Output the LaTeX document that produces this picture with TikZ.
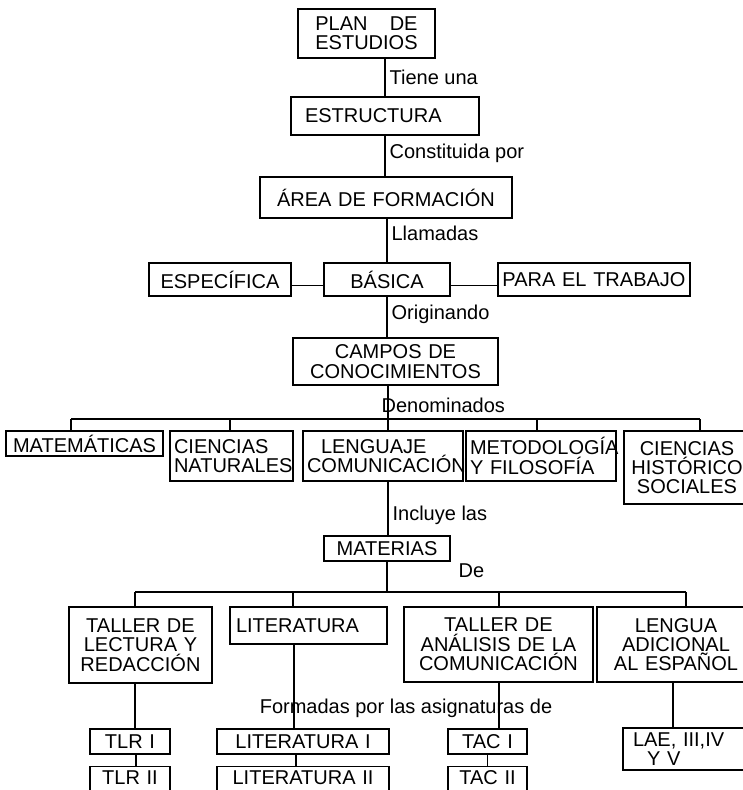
\documentclass[tikz,border=0pt]{standalone}
\usepackage{fontspec}
\setmainfont{Liberation Sans}
\newdimen\pix \pix=0.75pt
\lineskiplimit=-20pt
\tikzset{
    caja/.style={draw, rectangle, line width=1.1pt, inner xsep=4\pix, inner ysep=1pt, align=center},
    cortada/.style={caja, anchor=north, inner ysep=3pt, text depth=14pt},
    etiqueta/.style={anchor=west, inner sep=0pt, xshift=4\pix},
    linea/.style={line width=0.9pt}
}
\begin{document}
\begin{tikzpicture}[x=0.75pt,y=-0.75pt]
    \tikzstyle{every node}=[font=\fontsize{15}{14.5}\selectfont]
    \path[use as bounding box, fill=white] (0,0) rectangle (743,790);

    \node[caja, text width=129\pix, minimum height=49\pix] (plan) at (366.5,33.5) {PLAN\hspace{1.11em}DE\\ESTUDIOS};
    \node[caja, text width=180\pix, minimum height=38\pix, align=left] (estr) at (385,116) {\hspace*{10\pix}ESTRUCTURA};
    \node[caja, text width=244\pix, minimum height=41\pix] (area) at (386,197.5) {ÁREA DE FORMACIÓN};

    \node[caja, text width=134\pix, minimum height=33\pix] (esp) at (220,279.5) {ESPECÍFICA};
    \node[caja, text width=118\pix, minimum height=33\pix] (bas) at (387,279.5) {BÁSICA};
    \node[caja, text width=184\pix, minimum height=33\pix] (trab) at (594,279.5) {PARA EL TRABAJO};

    \node[caja, text width=197\pix, minimum height=47\pix] (campos) at (395.5,361.5) {CAMPOS DE\\CONOCIMIENTOS};

    \node[caja, text width=149\pix, minimum height=25\pix] (mat) at (84.5,443.5) {MATEMÁTICAS};
    \node[caja, text width=115\pix, minimum height=50\pix, align=left] (cnat) at (231.5,456) {CIENCIAS\\NATURALES};
    \node[caja, text width=152\pix, minimum height=50\pix, align=left] (leng) at (383,456) {\hspace*{14\pix}LENGUAJE\\COMUNICACIÓN};
    \node[caja, text width=142\pix, minimum height=50\pix, align=left] (metod) at (541,456) {METODOLOGÍA\\Y FILOSOFÍA};
    \node[caja, text width=118\pix, minimum height=73\pix] (chist) at (687,467.5) {CIENCIAS\\HISTÓRICO\\SOCIALES};

    \node[caja, text width=118\pix, minimum height=25\pix] (materias) at (387,548.5) {MATERIAS};

    \node[caja, text width=135\pix, minimum height=76\pix] (tlec) at (140.5,645) {TALLER DE\\LECTURA Y\\REDACCIÓN};
    \node[caja, text width=149\pix, minimum height=37\pix, align=left] (lit) at (308.5,625.5) {\hspace*{2\pix}LITERATURA};
    \node[caja, text width=181\pix, minimum height=75\pix] (tanal) at (498.5,644.5) {TALLER DE\hspace*{48\pix}\\ANÁLISIS DE LA\\COMUNICACIÓN};
    \node[caja, text width=150\pix, minimum height=75\pix] (lengua) at (676,644.5) {LENGUA\\ADICIONAL\\AL ESPAÑOL};

    \node (formadas) at (406,708) {Formadas por las asignaturas de};

    \node[caja, text width=72\pix, minimum height=25\pix] (tlr1) at (130,741.5) {TLR I};
    \node[cortada, text width=72\pix] (tlr2) at (130,766) {TLR II};
    \node[caja, text width=164\pix, minimum height=25\pix] (lit1) at (303,741.5) {LITERATURA I};
    \node[cortada, text width=164\pix] (lit2) at (303,766) {LITERATURA II};
    \node[caja, text width=71\pix, minimum height=25\pix] (tac1) at (487.5,741.5) {TAC I};
    \node[cortada, text width=71\pix] (tac2) at (487.5,766) {TAC II};
    \node[caja, text width=124\pix, minimum height=42\pix, align=left] (lae) at (689,749) {\hspace*{6\pix}LAE, III,IV\\\hspace*{20\pix}Y V};

    % eje central
    \draw[linea] (plan.south -| estr.north) -- (estr.north) node[etiqueta, midway]{Tiene una};
    \draw[linea] (estr.south) -- (estr.south |- area.north) node[etiqueta, pos=0.43]{Constituida por};
    \draw[linea] (area.south -| bas.north) -- (bas.north) node[etiqueta, pos=0.33]{Llamadas};
    \draw[linea] ([yshift=-6\pix]esp.east) -- ([yshift=-6\pix]bas.west);
    \draw[linea] ([yshift=-6\pix]bas.east) -- ([yshift=-6\pix]trab.west);
    \draw[linea] (bas.south) -- (bas.south |- campos.north) node[etiqueta, pos=0.43]{Originando};

    % campos de conocimientos
    \coordinate (bus5) at (388,419);
    \draw[linea] (campos.south -| bus5) -- (bus5) node[etiqueta, pos=0.6, xshift=-11\pix]{Denominados};
    \draw[linea] (bus5 -| 71,0) -- (bus5 -| 700,0);
    \foreach \n/\x in {mat/71,cnat/230,leng/388,metod/537,chist/700}
        \draw[linea] (bus5 -| \x,0) -- (\n.north -| \x,0);

    % materias
    \draw[linea] (leng.south -| bus5) -- (materias.north -| bus5) node[etiqueta, pos=0.62]{Incluye las};
    \coordinate (bus7) at (387,592);
    \draw[linea] (materias.south -| bus7) -- (bus7) node[etiqueta, pos=0.3, xshift=67\pix]{De};
    \draw[linea] (bus7 -| 135,0) -- (bus7 -| 686,0);
    \foreach \n/\x in {tlec/135,lit/293,tanal/499,lengua/686}
        \draw[linea] (bus7 -| \x,0) -- (\n.north -| \x,0);

    % asignaturas
    \foreach \a/\b/\x in {tlec/tlr1/135,lit/lit1/294,tanal/tac1/499,lengua/lae/673}
        \draw[linea] (\a.south -| \x,0) -- (\b.north -| \x,0);
    \draw[linea] (tlr1.south -| 136,0) -- (tlr2.north -| 136,0);
    \draw[linea] (lit1.south -| 296,0) -- (lit2.north -| 296,0);
    \draw[linea] (tac1.south) -- (tac2.north);
\end{tikzpicture}
\end{document}
